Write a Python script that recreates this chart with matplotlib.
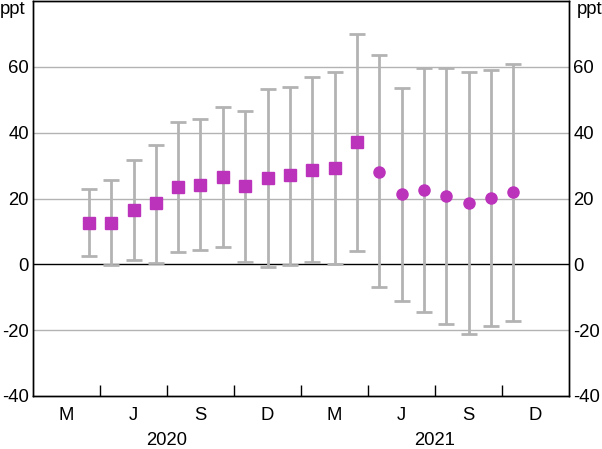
import numpy as np
import matplotlib
matplotlib.use("Agg")
import matplotlib.pyplot as plt

plt.rcParams['font.family'] = ['Liberation Sans', 'DejaVu Sans']
plt.rcParams['axes.unicode_minus'] = False

# month index, Jan 2020 = 0
months_sq = list(range(2, 15))   # Mar 2020 - Mar 2021
months_ci = list(range(15, 22))  # Apr 2021 - Oct 2021

est_sq = [12.5, 12.5, 16.5, 18.5, 23.5, 24.2, 26.5, 23.7, 26.1, 27.0, 28.7, 29.3, 37.2]
est_ci = [28.2, 21.3, 22.5, 20.7, 18.6, 20.1, 21.9]
upper = [22.8, 25.5, 31.6, 36.2, 43.1, 44.1, 47.8, 46.5, 53.4, 54.0, 56.8, 58.4, 70.1,
         63.5, 53.7, 59.6, 59.6, 58.4, 59.0, 60.8]
lower = [2.5, -0.2, 1.4, 0.4, 3.7, 4.4, 5.2, 0.7, -0.7, -0.2, 0.7, 0.1, 4.1,
         -6.8, -11.1, -14.5, -18.0, -21.3, -18.7, -17.2]

quarter_labels = ['M', 'J', 'S', 'D', 'M', 'J', 'S', 'D']
years = ['2020', '2021']

magenta = '#bb33bb'
grey = '#b3b3b3'
fs = 13.3

fig = plt.figure(figsize=(6.02, 4.49), dpi=100)
ax = fig.add_axes([33/602, 1 - 396/449, 536/602, 395/449])

x_all = np.array(months_sq + months_ci)
est_all = np.array(est_sq + est_ci)
up = np.array(upper)
lo = np.array(lower)
ax.errorbar(x_all, est_all, yerr=[est_all - lo, up - est_all], fmt='none',
            ecolor=grey, elinewidth=2, capsize=5.8, capthick=2, zorder=2)
ax.plot(months_sq, est_sq, 's', color=magenta, markersize=8.6, zorder=3)
ax.plot(months_ci, est_ci, 'o', color=magenta, markersize=8, zorder=3)

ax.set_xlim(-0.5, 23.5)
ax.set_ylim(-40, 80)
yt = [-40, -20, 0, 20, 40, 60]
ax.set_yticks(yt)
for v in [-20, 20, 40, 60]:
    ax.axhline(v, color=grey, lw=1, zorder=1)
ax.axhline(0, color='black', lw=1, zorder=1)

ax.tick_params(axis='y', length=0, labelsize=fs, pad=3)
ax.set_xticks(np.arange(2.5, 23, 3))
ax.set_xticklabels([])
ax.tick_params(axis='x', direction='in', length=8, width=1)
for i, lab in enumerate(quarter_labels):
    ax.text(1 + 3 * i, -0.027, lab, transform=ax.get_xaxis_transform(),
            ha='center', va='top', fontsize=fs)
for i, yr in enumerate(years):
    ax.text(5.5 + 12 * i, -0.09, yr, transform=ax.get_xaxis_transform(),
            ha='center', va='top', fontsize=fs)

ax2 = ax.twinx()
ax2.set_ylim(-40, 80)
ax2.set_yticks(yt)
ax2.set_yticklabels([str(v) for v in yt])
ax2.tick_params(axis='y', length=0, labelsize=fs, pad=3)
for a in (ax, ax2):
    for s in a.spines.values():
        s.set_linewidth(1)
ax.set_yticklabels([str(v) for v in yt])

fig.text(0/602, 1 - 1/449, 'ppt', ha='left', va='top', fontsize=fs)
fig.text(602/602, 1 - 1/449, 'ppt', ha='right', va='top', fontsize=fs)

fig.savefig('out.png', dpi=100)
